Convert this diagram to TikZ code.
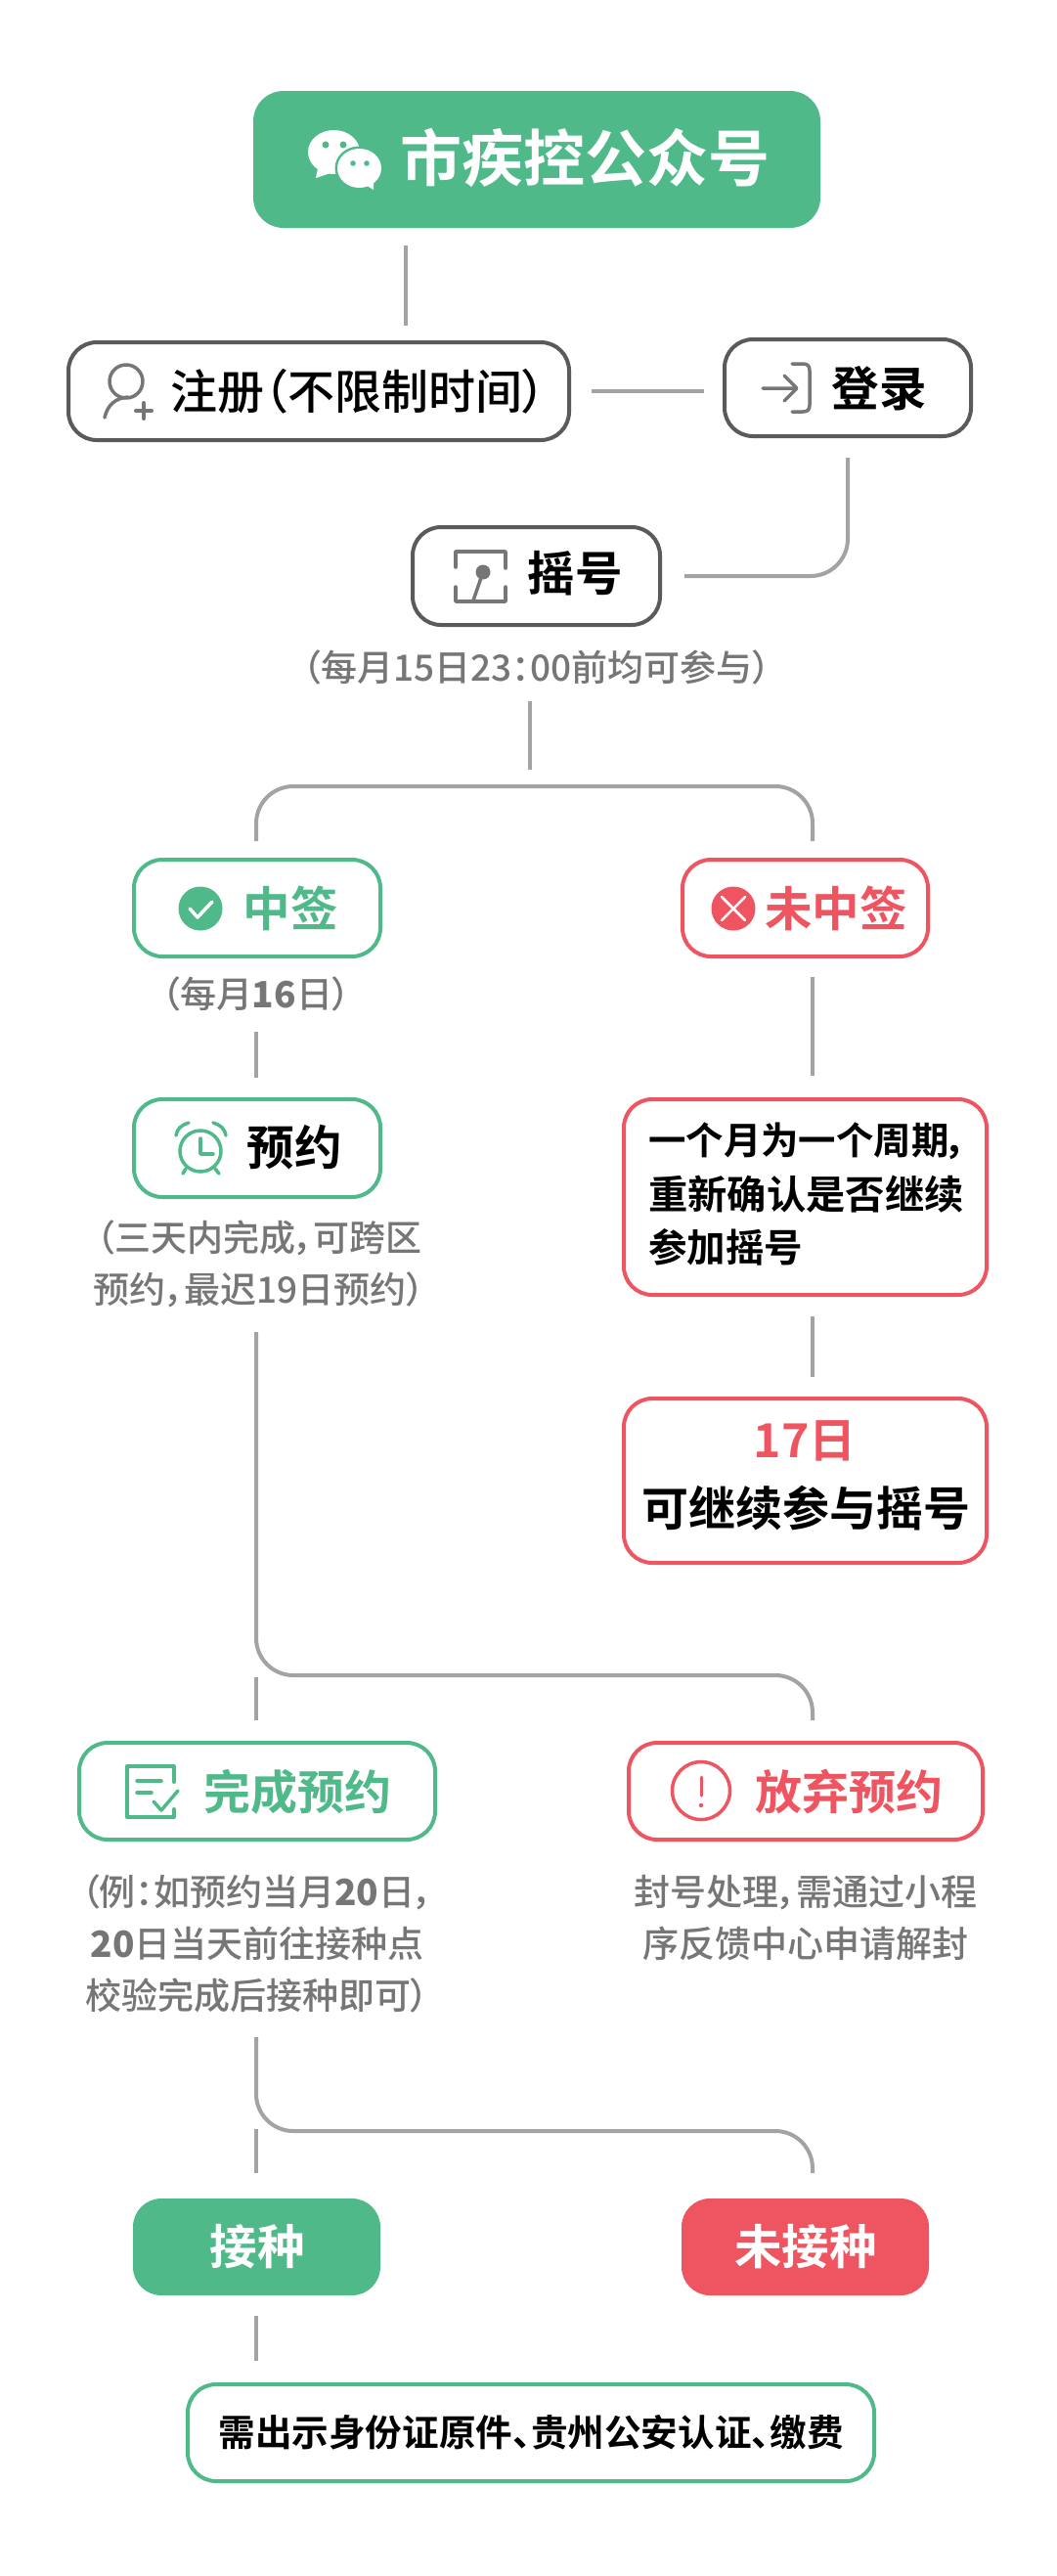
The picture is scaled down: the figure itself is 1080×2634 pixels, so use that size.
\documentclass[tikz,border=0pt]{standalone}
\usepackage{fontspec}
\setmainfont{Noto Sans CJK SC}[RawFeature=+palt,BoldFont={* Bold}]
\newfontfamily\medfont{Noto Sans CJK SC Medium}[RawFeature=+palt]
\definecolor{gr}{HTML}{50B98A}
\definecolor{rd}{HTML}{EE5561}
\definecolor{ln}{HTML}{A3A3A3}
\definecolor{dk}{HTML}{5A5A5A}
\definecolor{tg}{HTML}{767676}
\newcommand{\fs}[1]{\fontsize{#1}{#1}\selectfont}
\tikzset{
  x=1pt,y=-1pt,
  conn/.style={draw=ln,line width=4pt,rounded corners=38pt},
  boxbase/.style={rounded corners=29pt,line width=4pt,inner sep=0pt},
  boxdark/.style={boxbase,draw=dk,fill=white},
  boxgreen/.style={boxbase,draw=gr,fill=white},
  boxred/.style={boxbase,draw=rd,fill=white},
  fillgreen/.style={boxbase,line width=0pt,fill=gr},
  fillred/.style={boxbase,line width=0pt,fill=rd},
  boxlabel/.style={inner sep=0pt,font=\bfseries\fs{48.5},text=black},
  note/.style={inner sep=0pt,font=\medfont\fs{37},text=tg,align=center},
  icondark/.style={draw=#1,line width=3.5pt,line cap=round,line join=round,fill=none},
}
\begin{document}
\begin{tikzpicture}
\useasboundingbox (0,0) rectangle (1080,2634);
\fill[white] (0,0) rectangle (1080,2634);

% connector end points
\coordinate (a1) at (415,251); \coordinate (a2) at (415,333);
\coordinate (b1) at (605,400); \coordinate (b2) at (720,400);
\coordinate (c1) at (867,468); \coordinate (c2) at (867,589); \coordinate (c3) at (700,589);
\coordinate (d1) at (542,717); \coordinate (d2) at (542,787);
\coordinate (e1) at (262,860); \coordinate (e2) at (262,804); \coordinate (e3) at (831,804); \coordinate (e4) at (831,860);
\coordinate (f1) at (262,1055); \coordinate (f2) at (262,1102);
\coordinate (g1) at (831,999); \coordinate (g2) at (831,1100);
\coordinate (h1) at (831,1346); \coordinate (h2) at (831,1408);
\coordinate (i1) at (262,1362); \coordinate (i2) at (262,1713); \coordinate (i3) at (831,1713); \coordinate (i4) at (831,1759);
\coordinate (j1) at (262,1715); \coordinate (j2) at (262,1759);
\coordinate (k1) at (262,2083); \coordinate (k2) at (262,2179); \coordinate (k3) at (831,2179); \coordinate (k4) at (831,2222);
\coordinate (l1) at (262,2177); \coordinate (l2) at (262,2222);
\coordinate (m1) at (262,2368); \coordinate (m2) at (262,2414);

\draw[conn] (a1) -- (a2);
\draw[conn] (b1) -- (b2);
\draw[conn] (c1) -- (c2) -- (c3);
\draw[conn] (d1) -- (d2);
\draw[conn] (e1) -- (e2) -- (e3) -- (e4);
\draw[conn] (f1) -- (f2);
\draw[conn] (g1) -- (g2);
\draw[conn] (h1) -- (h2);
\draw[conn] (i1) -- (i2) -- (i3) -- (i4);
\draw[conn] (j1) -- (j2);
\draw[conn] (k1) -- (k2) -- (k3) -- (k4);
\draw[conn] (l1) -- (l2);
\draw[conn] (m1) -- (m2);

% boxes
\node[fillgreen,minimum width=580pt,minimum height=140pt,rounded corners=31pt] (title) at (549,163) {};
\node[boxdark,minimum width=512pt,minimum height=100pt] (reg) at (326,400) {};
\node[boxdark,minimum width=252pt,minimum height=99pt] (login) at (867,396.5) {};
\node[boxdark,minimum width=253pt,minimum height=100pt] (yao) at (548.5,589) {};
\node[boxgreen,minimum width=252pt,minimum height=99pt] (zq) at (263,928.5) {};
\node[boxred,minimum width=251pt,minimum height=99pt] (wzq) at (823.5,928.5) {};
\node[boxgreen,minimum width=252pt,minimum height=100pt] (yy) at (263,1174) {};
\node[boxred,minimum width=371pt,minimum height=200pt] (cyc) at (823.5,1224) {};
\node[boxred,minimum width=371pt,minimum height=168pt] (r17) at (823.5,1514) {};
\node[boxgreen,minimum width=364pt,minimum height=99pt] (comp) at (263,1831.5) {};
\node[boxred,minimum width=362pt,minimum height=99pt] (aban) at (824,1831.5) {};
\node[fillgreen,minimum width=253pt,minimum height=99pt] (jz) at (262.5,2297.5) {};
\node[fillred,minimum width=253pt,minimum height=99pt] (wjz) at (823.5,2297.5) {};
\node[boxgreen,minimum width=702pt,minimum height=99pt] (last) at (543,2487.5) {};

% labels
\node[boxlabel,font=\bfseries\fs{63},text=white] (titleT) at (598,161) {市疾控公众号};
\node[boxlabel,font=\medfont\fs{48}] (regT) at (366,400) {注册（不限制时间）};
\node[boxlabel] (loginT) at (899,397) {登录};
\node[boxlabel] (yaoT) at (588,586) {摇号};
\node[note] (n15) at (549,682) {（每月15日23：00前均可参与）};
\node[boxlabel,text=gr] (zqT) at (297,929) {中签};
\node[boxlabel,text=rd] (wzqT) at (855,929) {未中签};
\node[note] (n16) at (262,1016) {（每月{\bfseries 16}日）};
\node[boxlabel] (yyT) at (301,1173) {预约};
\node[note] (n3d) at (265,1292.5) {（三天内完成，可跨区\\[16pt]预约，最迟19日预约）};
\node[inner sep=0pt,anchor=west,align=left,font=\bfseries\fs{39.5}] (cycT) at (663,1221) {{\fs{38.4}一个月为一个周期，}\\[14.5pt]{\fs{40.3}重新确认是否继续}\\[14.5pt]参加摇号};
\node[inner sep=0pt,font=\bfseries\fs{48},text=rd] (r17a) at (823,1473) {17日};
\node[inner sep=0pt,font=\bfseries\fs{48}] (r17b) at (824,1542) {可继续参与摇号};
\node[boxlabel,font=\bfseries\fs{48},text=gr] (compT) at (304,1832) {完成预约};
\node[boxlabel,font=\bfseries\fs{48},text=rd] (abanT) at (868,1832) {放弃预约};
\node[note] (nex) at (263,1987) {（例：如预约当月{\bfseries 20}日，\\[16pt]{\bfseries 20}日当天前往接种点\\[16pt]校验完成后接种即可）};
\node[note] (nab) at (824,1960.5) {封号处理，需通过小程\\[16pt]序反馈中心申请解封};
\node[boxlabel,text=white] (jzT) at (263,2297) {接种};
\node[boxlabel,text=white] (wjzT) at (824,2297) {未接种};
\node[inner sep=0pt,font=\bfseries\fs{37.6}] (lastT) at (543,2487) {需出示身份证原件、贵州公安认证、缴费};

% icon: wechat
\fill[white] (341.5,155.5) ellipse [x radius=26.5pt,y radius=22.5pt];
\fill[white] (325,172) -- (323,182) -- (338,177) -- cycle;
\fill[gr] (367.5,172) ellipse [x radius=25pt,y radius=22.5pt];
\fill[white] (367.5,172) ellipse [x radius=22.5pt,y radius=20pt];
\fill[white] (374,189) -- (382,194) -- (382,187) -- cycle;
\fill[gr] (333,148) circle (3.5pt) (351,148) circle (3.5pt) (361,167) circle (2.8pt) (375,167) circle (2.8pt);

% icon: register
\draw[icondark=tg] (129,390) circle (17pt);
\draw[icondark=tg] (107,427) .. controls (110,414) and (118,407) .. (131,406);
\draw[icondark=tg,line width=4pt] (147,412) -- (147,428) (139,420) -- (155,420);

% icon: login
\draw[icondark=tg] (810,372) -- (821,372) .. controls (826,372) and (828,374) .. (828,379) -- (828,414) .. controls (828,419) and (826,421) .. (821,421) -- (810,421);
\draw[icondark=tg] (780,397) -- (814,397) (802,384) -- (815,397) -- (802,410);

% icon: lottery
\draw[icondark=tg] (466,580) -- (466,564) -- (517,564) -- (517,581);
\draw[icondark=tg] (466,600) -- (466,615) -- (517,615) -- (517,600);
\draw[icondark=tg] (494,585) -- (484,614);
\fill[tg] (494,585) circle (7.5pt);

% icon: check
\fill[gr] (205,929) circle (22.5pt);
\draw[white,line width=3.5pt,line cap=round,line join=round] (194,929) -- (202,938) -- (217,922);

% icon: cross
\fill[rd] (750,929) circle (22.5pt);
\draw[white,line width=2.5pt,line cap=round] (738,917) -- (762,941) (762,917) -- (738,941);

% icon: alarm
\draw[icondark=gr] (205,1177) circle (21pt);
\draw[icondark=gr] (205,1164) -- (205,1180) -- (218,1180);
\draw[icondark=gr] (180,1161) .. controls (181,1154) and (186,1150) .. (193,1148);
\draw[icondark=gr] (231,1161) .. controls (230,1154) and (225,1150) .. (218,1148);
\draw[icondark=gr] (187,1200) -- (190,1195) (224,1200) -- (220,1195);

% icon: complete
\draw[icondark=gr,line width=4pt] (178,1822) -- (178,1806) -- (130,1806) -- (130,1858) -- (178,1858) -- (178,1850);
\draw[icondark=gr] (140,1821) -- (165,1821) (140,1833) -- (155,1833);
\draw[icondark=gr] (157,1842) -- (165,1851) -- (182,1831);

% icon: abandon
\draw[icondark=rd] (717,1831) circle (29.5pt);
\draw[icondark=rd,line width=3pt] (717,1817) -- (717,1836);
\fill[rd] (717,1846) circle (2.2pt);
\end{tikzpicture}
\end{document}
